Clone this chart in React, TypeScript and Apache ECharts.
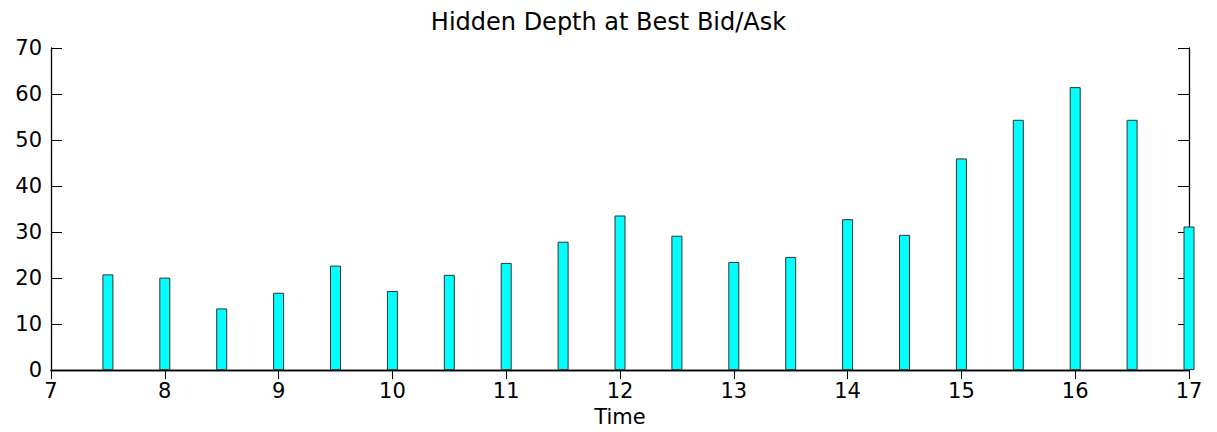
import React, { useEffect, useRef } from "react";
import * as echarts from "echarts";

const times = [7.5, 8, 8.5, 9, 9.5, 10, 10.5, 11, 11.5, 12, 12.5, 13, 13.5, 14, 14.5, 15, 15.5, 16, 16.5, 17];
const depth = [20.8, 20.1, 13.4, 16.8, 22.7, 17.2, 20.7, 23.3, 27.9, 33.6, 29.2, 23.5, 24.6, 32.8, 29.4, 46.0, 54.4, 61.5, 54.4, 31.2];

const titleText = "Hidden Depth at Best Bid/Ask";
const xName = "Time";

const FONT = "DejaVu Sans";

export default function App() {
  const ref = useRef<HTMLDivElement>(null);
  useEffect(() => {
    document.body.style.margin = "0";
    if (!ref.current) return;
    const chart = echarts.init(ref.current, null, { renderer: "svg" });
    const axisLine = { show: true, lineStyle: { color: "#000", width: 1.3 } };
    chart.setOption({
      animation: false,
      backgroundColor: "#fff",
      title: {
        text: titleText,
        left: "center",
        top: 10,
        padding: 0,
        textStyle: { fontFamily: FONT, fontSize: 24, fontWeight: "normal", color: "#000" },
      },
      grid: { left: 51, top: 48, right: 28, bottom: 60, containLabel: false },
      xAxis: [
        {
          type: "value",
          min: 7,
          max: 17,
          interval: 1,
          position: "bottom",
          name: xName,
          nameLocation: "middle",
          nameGap: 35,
          nameTextStyle: { fontFamily: FONT, fontSize: 21, color: "#000" },
          axisLine,
          axisTick: { show: true, inside: true, length: 9, lineStyle: { color: "#000", width: 1 } },
          axisLabel: { show: true, margin: 10, fontFamily: FONT, fontSize: 21, color: "#000" },
          splitLine: { show: false },
        },
        {
          type: "value",
          min: 7,
          max: 17,
          interval: 1,
          position: "top",
          axisLine,
          axisTick: { show: true, inside: true, length: 9, lineStyle: { color: "#000", width: 1 } },
          axisLabel: { show: false },
          splitLine: { show: false },
        },
      ],
      yAxis: [
        {
          type: "value",
          min: 0,
          max: 70,
          interval: 10,
          position: "left",
          axisLine,
          axisTick: { show: true, inside: true, length: 11, lineStyle: { color: "#000", width: 1 } },
          axisLabel: { show: true, margin: 9, fontFamily: FONT, fontSize: 21, color: "#000" },
          splitLine: { show: false },
        },
        {
          type: "value",
          min: 0,
          max: 70,
          interval: 10,
          position: "right",
          axisLine,
          axisTick: { show: true, inside: true, length: 11, lineStyle: { color: "#000", width: 1 } },
          axisLabel: { show: false },
          splitLine: { show: false },
        },
      ],
      series: [
        {
          type: "bar",
          xAxisIndex: 0,
          yAxisIndex: 0,
          barWidth: 11,
          clip: true,
          data: times.map((t, i) => [t, depth[i]]),
          itemStyle: { color: "#00FFFF", borderColor: "#333", borderWidth: 1 },
        },
      ],
    });
    return () => chart.dispose();
  }, []);
  return <div ref={ref} style={{ width: 1217, height: 432 }} />;
}
